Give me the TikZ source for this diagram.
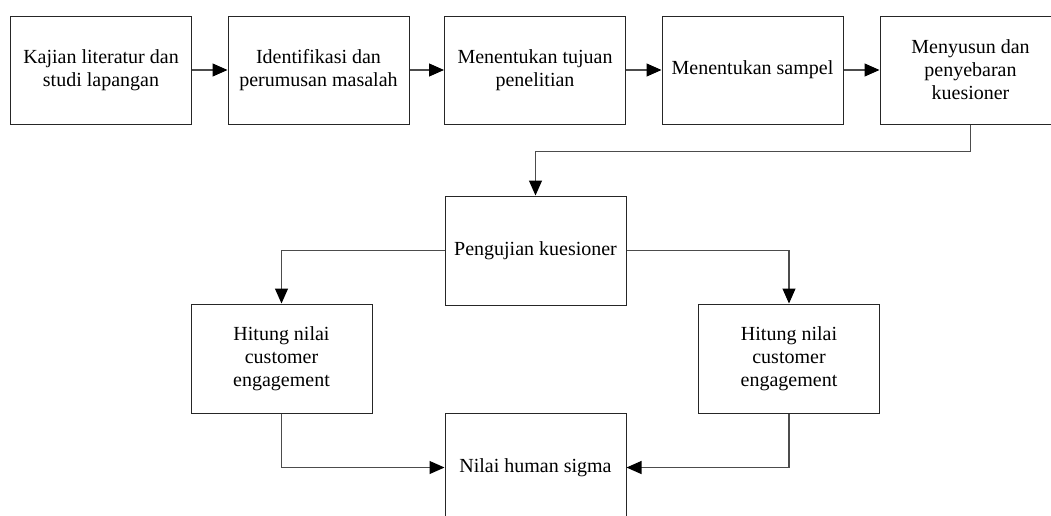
\documentclass[tikz,border=0pt]{standalone}
\usepackage{fontspec}
\setmainfont{Liberation Serif}
\usetikzlibrary{arrows.meta}
\begin{document}
\begin{tikzpicture}[x=1pt,y=-1pt,
  box/.style={draw=black!85,line width=1pt,minimum width=181pt,minimum height=108pt,
    inner sep=0pt,align=center,font=\fontsize{20pt}{23pt}\selectfont},
  conn/.style={draw=black!70,line width=1.1pt,-{Triangle[length=15pt,width=13pt,fill=black,color=black]}}]
\useasboundingbox (0,0) rectangle (1051,515);
\clip (0,0) rectangle (1051,515);
\node[box] (b1) at (101,70) {Kajian literatur dan\\studi lapangan};
\node[box] (b2) at (318.5,70) {Identifikasi dan\\perumusan masalah};
\node[box] (b3) at (535,70) {Menentukan tujuan\\penelitian};
\node[box] (b4) at (752.5,70) {Menentukan sampel};
\node[box] (b5) at (970.5,70) {Menyusun dan\\penyebaran\\kuesioner};
\node[box,minimum height=109pt] (b6) at (535.5,250.5) {Pengujian kuesioner};
\node[box,minimum height=109pt] (b7) at (281.5,358.5) {Hitung nilai\\customer\\engagement};
\node[box,minimum height=109pt] (b8) at (789,358.5) {Hitung nilai\\customer\\engagement};
\node[box,minimum height=109pt] (b9) at (535.5,467.5) {Nilai human sigma};
\draw[conn] (b1.east) -- (b2.west);
\draw[conn] (b2.east) -- (b3.west);
\draw[conn] (b3.east) -- (b4.west);
\draw[conn] (b4.east) -- (b5.west);
\draw[conn] (b5.south) -- ++(0,27) -| (b6.north);
\draw[conn] (b6.west) -| (b7.north);
\draw[conn] (b6.east) -| (b8.north);
\draw[conn] (b7.south) |- (b9.west);
\draw[conn] (b8.south) |- (b9.east);
\end{tikzpicture}
\end{document}
